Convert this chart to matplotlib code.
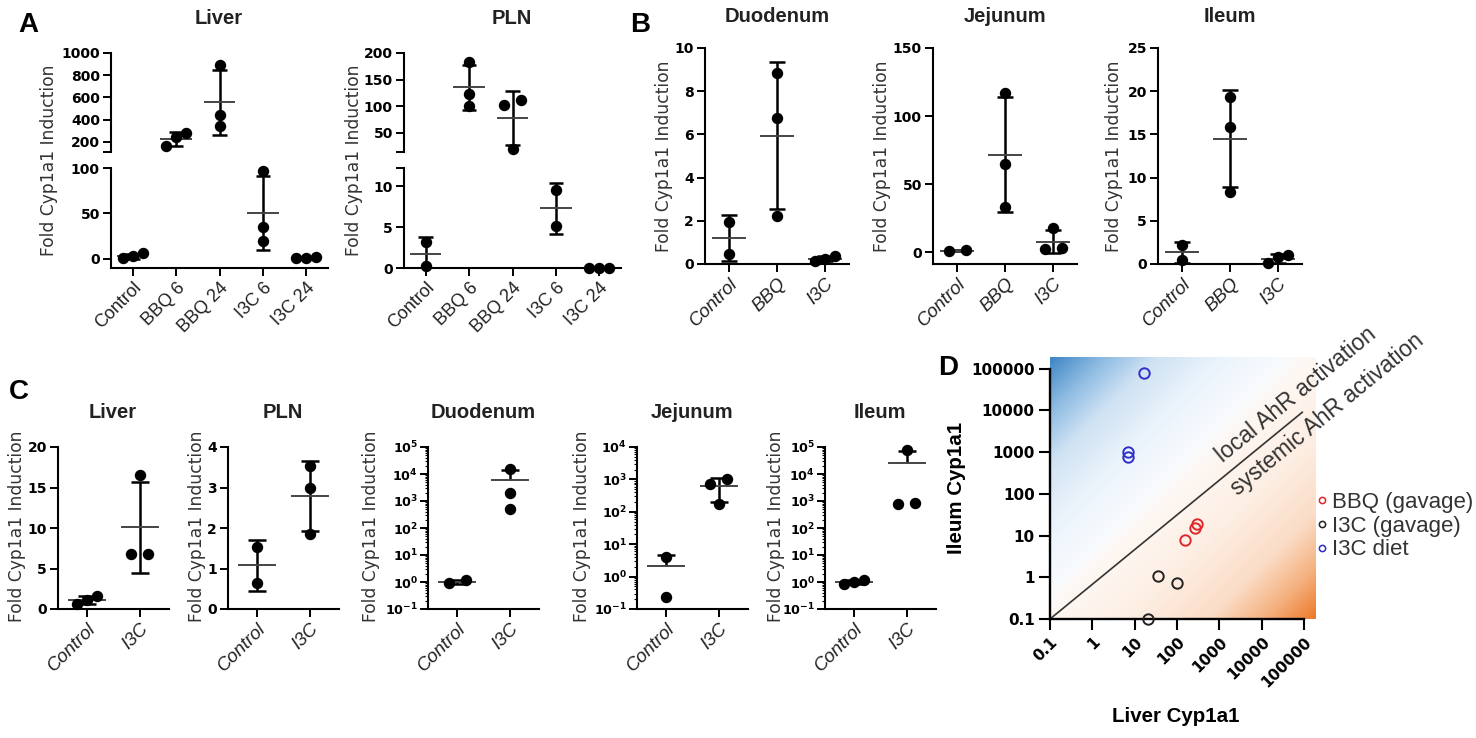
import numpy as np
import matplotlib
matplotlib.use('Agg')
import matplotlib.pyplot as plt
from matplotlib import font_manager
from matplotlib.colors import LinearSegmentedColormap
from matplotlib.lines import Line2D
import matplotlib.transforms as mtransforms

W, H = 1476, 738

# ---------------- data ----------------
a_cats = ['Control', 'BBQ 6', 'BBQ 24', 'I3C 6', 'I3C 24']
a_liver = [[0.5, 3, 6], [160, 245, 280], [342, 441, 892], [20, 35, 97], [0.5, 1.0, 2.5]]
a_pln = [[0.3, 3.2], [100, 123, 183], [20, 102, 112], [5.1, 9.5], [0.05, 0.05, 0.05]]

b_cats = ['Control', 'BBQ', 'I3C']
b_duodenum = [[0.45, 1.95], [2.2, 6.75, 8.85], [0.12, 0.25, 0.35]]
b_jejunum = [[0.8, 1.2], [33, 65, 117], [2.5, 2.8, 17.5]]
b_ileum = [[0.5, 2.2], [8.3, 15.9, 19.3], [0.1, 0.8, 1.0]]

c_cats = ['Control', 'I3C']
c_liver = [[0.6, 1.1, 1.65], [6.8, 6.8, 16.6]]
c_pln = [[0.64, 1.53], [1.84, 2.99, 3.52]]
c_duodenum = [[0.9, 1.15], [525, 2050, 15000]]
c_jejunum = [[0.23, 4.0], [170, 714, 1030]]
c_ileum = [[0.85, 1.0, 1.2], [800, 850, 75000]]

d_groups = ['BBQ (gavage)', 'I3C (gavage)', 'I3C diet']
d_colors = ['#e0282c', '#222222', '#2f2fc8']
d_liver = [[155, 270, 295], [21, 36, 100], [6.9, 6.9, 16.7]]
d_ileum = [[7.8, 15, 19], [0.1, 1.07, 0.73], [780, 1000, 79000]]
d_ticks = [0.1, 1, 10, 100, 1000, 10000, 100000]
d_ticklabels = ['0.1', '1', '10', '100', '1000', '10000', '100000']


def pick(names):
    for n in names:
        try:
            font_manager.findfont(font_manager.FontProperties(family=n),
                                  fallback_to_default=False)
            return n
        except Exception:
            pass
    return 'DejaVu Sans'


SANS = pick(['Liberation Sans', 'Arial'])
plt.rcParams['font.family'] = ['DejaVu Sans']
plt.rcParams['mathtext.default'] = 'regular'

LETTER = 20
TITLE = 14.5
YLAB = 12.3
TICK = 10
XTICK = 13
CAP = 0.17
MEAN = 0.34
DOT = 7.2
DIAM = 9.5

fig = plt.figure(figsize=(W / 100, H / 100), dpi=100)


def ax_at(x0, y0, x1, y1):
    return fig.add_axes([x0 / W, 1 - y1 / H, (x1 - x0) / W, (y1 - y0) / H])


def style(ax, log=False):
    for s in ['top', 'right']:
        ax.spines[s].set_visible(False)
    for s in ['left', 'bottom']:
        ax.spines[s].set_linewidth(1.5)
    ax.tick_params(direction='out', width=1.4, length=6, pad=2)
    ax.tick_params(axis='y', labelsize=TICK - 0.8 if log else TICK, pad=1 if log else 2)
    ax.patch.set_alpha(0)
    for lab in ax.get_yticklabels():
        lab.set_fontweight('bold')


def swarm(ax, vals):
    vals = np.asarray(vals, float)
    py = ax.transData.transform(np.column_stack([np.zeros(len(vals)), vals]))[:, 1]
    px = ax.transData.transform([(0, vals[0]), (1, vals[0])])[:, 0]
    unit = px[1] - px[0]
    order = np.argsort(py)
    off = np.zeros(len(vals))
    clusters = [[order[0]]]
    for i in order[1:]:
        if py[i] - py[clusters[-1][-1]] < DIAM:
            clusters[-1].append(i)
        else:
            clusters.append([i])
    for c in clusters:
        n = len(c)
        step = 17.0 if n == 2 else 10.0
        for k, i in enumerate(c):
            off[i] = (k - (n - 1) / 2) * step / unit
    return off


def draw_bars(ax, i, vals, log=False):
    m = np.mean(vals)
    sd = np.std(vals, ddof=1)
    hi, lo = m + sd, m - sd
    kw = dict(color='k', lw=1.8, solid_capstyle='butt', zorder=2)
    if log and lo <= 0:
        ax.plot([i, i], [m, hi], **kw)
    else:
        ax.plot([i, i], [lo, hi], **kw)
        ax.plot([i - CAP, i + CAP], [lo, lo], **kw)
    ax.plot([i - CAP, i + CAP], [hi, hi], **kw)
    ax.plot([i - MEAN, i + MEAN], [m, m], color='#444444', lw=1.4, zorder=2)


def xlabels(ax, cats, italic):
    ax.set_xticks(range(len(cats)))
    ax.set_xticklabels(cats, rotation=45, ha='right', rotation_mode='anchor',
                       fontsize=XTICK if not italic else XTICK + 0.5, family=SANS,
                       style='italic' if italic else 'normal', color='#222222')


def simple_panel(box, cats, groups, xlim, ylim, yticks, log=False, italic=True):
    ax = ax_at(*box)
    if log:
        ax.set_yscale('log')
    ax.set_xlim(xlim)
    ax.set_ylim(ylim)
    ax.set_yticks(yticks)
    if log:
        ax.set_yticklabels([r'$10^{%d}$' % round(np.log10(t)) for t in yticks])
        ax.yaxis.set_minor_locator(matplotlib.ticker.LogLocator(subs=np.arange(2, 10), numticks=20))
        ax.tick_params(axis='y', which='minor', length=2, width=0.8)
    xlabels(ax, cats, italic)
    style(ax, log)
    for i, vals in enumerate(groups):
        off = swarm(ax, vals)
        draw_bars(ax, i, vals, log)
        ax.plot(i + off, vals, 'o', ms=DOT, color='k', clip_on=False, zorder=4)
    return ax


def broken_panel(x0, x1, ys, cats, groups, xlim, up_lim, low_lim, up_ticks, low_ticks,
                 up_labels, low_labels):
    up = ax_at(x0, ys[0], x1, ys[1])
    low = ax_at(x0, ys[2], x1, ys[3])
    for ax, lim, ticks, labels in [(up, up_lim, up_ticks, up_labels),
                                   (low, low_lim, low_ticks, low_labels)]:
        ax.set_xlim(xlim)
        ax.set_ylim(lim)
        ax.set_yticks(ticks)
        ax.set_yticklabels(labels)
    up.spines['bottom'].set_visible(False)
    up.set_xticks([])
    xlabels(low, cats, False)
    style(up)
    style(low)
    for i, vals in enumerate(groups):
        vals = np.asarray(vals, float)
        in_up = vals > low_lim[1]
        off = np.zeros(len(vals))
        for ax, mask in [(up, in_up), (low, ~in_up)]:
            if mask.any():
                off[mask] = swarm(ax, vals[mask])
        for ax in (up, low):
            draw_bars(ax, i, vals)
        up.plot(i + off[in_up], vals[in_up], 'o', ms=DOT, color='k', clip_on=False, zorder=4)
        low.plot(i + off[~in_up], vals[~in_up], 'o', ms=DOT, color='k', clip_on=False, zorder=4)
    return up, low


def ftext(x, y, s, **kw):
    fig.text(x / W, 1 - y / H, s, **kw)


YL = 'Fold Cyp1a1 Induction'
ylab_kw = dict(fontsize=YLAB, rotation=90, ha='center', va='center', color='#333333')
title_kw = dict(fontsize=TITLE, ha='center', va='center', family=SANS, fontweight='bold',
                color='#222222')
letter_kw = dict(fontsize=LETTER, fontweight='bold', ha='center', va='center', family=SANS)

# ---------------- panel A ----------------
broken_panel(111, 328, (53, 152, 168, 268), a_cats, a_liver, (-0.5, 4.5),
             (110, 1000), (-10, 100), [110, 200, 400, 600, 800, 1000], [0, 50, 100],
             ['', '200', '400', '600', '800', '1000'], ['0', '50', '100'])
broken_panel(404, 621, (53, 152, 168, 268), a_cats, a_pln, (-0.5, 4.5),
             (14, 200), (0, 12.2), [14, 50, 100, 150, 200], [0, 5, 10, 12.2],
             ['', '50', '100', '150', '200'], ['0', '5', '10', ''])
ftext(28, 25, 'A', **letter_kw)
ftext(219, 19, 'Liver', **title_kw)
ftext(512, 19, 'PLN', **title_kw)
ftext(49, 160, YL, **ylab_kw)
ftext(354, 160, YL, **ylab_kw)

# ---------------- panel B ----------------
simple_panel((705, 48, 849, 264), b_cats, b_duodenum, (-0.5, 2.5), (0, 10), [0, 2, 4, 6, 8, 10])
simple_panel((933, 48, 1077, 264), b_cats, b_jejunum, (-0.5, 2.5), (-8.8, 150), [0, 50, 100, 150])
simple_panel((1158, 48, 1302, 264), b_cats, b_ileum, (-0.5, 2.5), (0, 25), [0, 5, 10, 15, 20, 25])
ftext(640, 25, 'B', **letter_kw)
for x, t in [(777, 'Duodenum'), (1005, 'Jejunum'), (1230, 'Ileum')]:
    ftext(x, 16, t, **title_kw)
for x in (664, 882, 1114):
    ftext(x, 156, YL, **ylab_kw)

# ---------------- panel C ----------------
simple_panel((58, 447, 169, 609), c_cats, c_liver, (-0.55, 1.55), (0, 20), [0, 5, 10, 15, 20])
simple_panel((228, 447, 339, 609), c_cats, c_pln, (-0.55, 1.55), (0, 4), [0, 1, 2, 3, 4])
simple_panel((428, 447, 539, 609), c_cats, c_duodenum, (-0.55, 1.55), (0.1, 1e5),
             [0.1, 1, 10, 100, 1e3, 1e4, 1e5], log=True)
simple_panel((637, 447, 748, 609), c_cats, c_jejunum, (-0.55, 1.55), (0.1, 1e4),
             [0.1, 1, 10, 100, 1e3, 1e4], log=True)
simple_panel((825, 447, 936, 609), c_cats, c_ileum, (-0.55, 1.55), (0.1, 1e5),
             [0.1, 1, 10, 100, 1e3, 1e4, 1e5], log=True)
ftext(19, 392, 'C', **letter_kw)
for x, t in [(113, 'Liver'), (283, 'PLN'), (483, 'Duodenum'), (692, 'Jejunum'), (880, 'Ileum')]:
    ftext(x, 412, t, **title_kw)
for x in (17, 197, 371, 582, 776):
    ftext(x, 526, YL, **ylab_kw)

# ---------------- panel D ----------------
ax = ax_at(1050, 357, 1315, 619)
ax.set_xscale('log')
ax.set_yscale('log')
ax.set_xlim(0.1, 1.8e5)
ax.set_ylim(0.1, 1.9e5)
for s in ['top', 'right']:
    ax.spines[s].set_visible(False)
for s in ['left', 'bottom']:
    ax.spines[s].set_linewidth(1.7)
    ax.spines[s].set_bounds(0.1, 1e5)
ax.set_xticks(d_ticks)
ax.set_xticklabels(d_ticklabels, rotation=45, ha='right', rotation_mode='anchor',
                   fontsize=11, fontweight='bold')
ax.set_yticks(d_ticks)
ax.set_yticklabels(d_ticklabels, fontsize=11, fontweight='bold')
ax.minorticks_off()
ax.tick_params(direction='out', width=1.5, length=8, pad=3)

u = np.linspace(0, 1, 300)
xx, yy = np.meshgrid(u, u)
grad = yy - xx
cmap = LinearSegmentedColormap.from_list('ahr', [
    (0.0, '#ec7a2a'), (0.1, '#f5b382'), (0.2, '#fbdcc6'), (0.35, '#fdeee3'),
    (0.5, '#fef7f2'), (0.56, '#f8fbfe'), (0.68, '#eaf3fb'), (0.8, '#cfe2f3'),
    (0.9, '#8dbbe2'), (1.0, '#3f86c6')])
ax.imshow(grad, origin='lower', extent=[0, 1, 0, 1], transform=ax.transAxes,
          cmap=cmap, vmin=-1, vmax=1, aspect='auto', zorder=0, interpolation='bilinear')

line_x = [0.1, 9e4]
line_y = [0.1, 9e3]
ax.plot(line_x, line_y, color='#333333', lw=1.2, zorder=2, clip_on=False)
p0 = ax.transData.transform((line_x[0], line_y[0]))
p1 = ax.transData.transform((line_x[1], line_y[1]))
ang = np.degrees(np.arctan2(p1[1] - p0[1], p1[0] - p0[0]))
nrm = np.array([-np.sin(np.radians(ang)), np.cos(np.radians(ang))])


def on_line(xv):
    t = (np.log10(xv) - np.log10(line_x[0])) / (np.log10(line_x[1]) - np.log10(line_x[0]))
    return xv, 10 ** (np.log10(line_y[0]) + t * (np.log10(line_y[1]) - np.log10(line_y[0])))


xa, ya = on_line(10 ** 3.25)
tr = mtransforms.offset_copy(ax.transData, fig=fig, x=nrm[0] * 11, y=nrm[1] * 11, units='dots')
ax.text(xa, ya, 'local AhR activation', transform=tr, rotation=ang, rotation_mode='anchor',
        ha='left', va='baseline', fontsize=16.5, family=SANS, clip_on=False, color='#333333')
xb, yb = on_line(10 ** 3.07)
tr = mtransforms.offset_copy(ax.transData, fig=fig, x=-nrm[0] * 6, y=-nrm[1] * 6, units='dots')
ax.text(xb, yb, 'systemic AhR activation', transform=tr, rotation=ang, rotation_mode='anchor',
        ha='left', va='top', fontsize=16.5, family=SANS, clip_on=False, color='#333333')

for xs, ys, c in zip(d_liver, d_ileum, d_colors):
    ax.plot(xs, ys, 'o', ms=7.5, mfc='none', mec=c, mew=1.4, clip_on=False, zorder=4)

handles = [Line2D([], [], marker='o', ls='none', ms=4.5, mfc='none', mec=c, mew=1.1)
           for c in d_colors]
leg = ax.legend(handles, d_groups, loc='upper left', bbox_to_anchor=(1316 / W, 1 - 492 / H),
                bbox_transform=fig.transFigure, frameon=False,
                prop={'family': SANS, 'size': 16},
                handlelength=0.5, handletextpad=0.2, labelspacing=0.12, borderpad=0,
                borderaxespad=0)
for t in leg.get_texts():
    t.set_color('#333333')

ftext(1176, 717, 'Liver Cyp1a1', fontsize=14.8, fontweight='bold', family=SANS,
      ha='center', va='center')
ftext(956, 488, 'Ileum Cyp1a1', fontsize=14.8, fontweight='bold', family=SANS,
      ha='center', va='center', rotation=90)
ftext(948, 368, 'D', **letter_kw)

fig.savefig('out.png', dpi=100)
